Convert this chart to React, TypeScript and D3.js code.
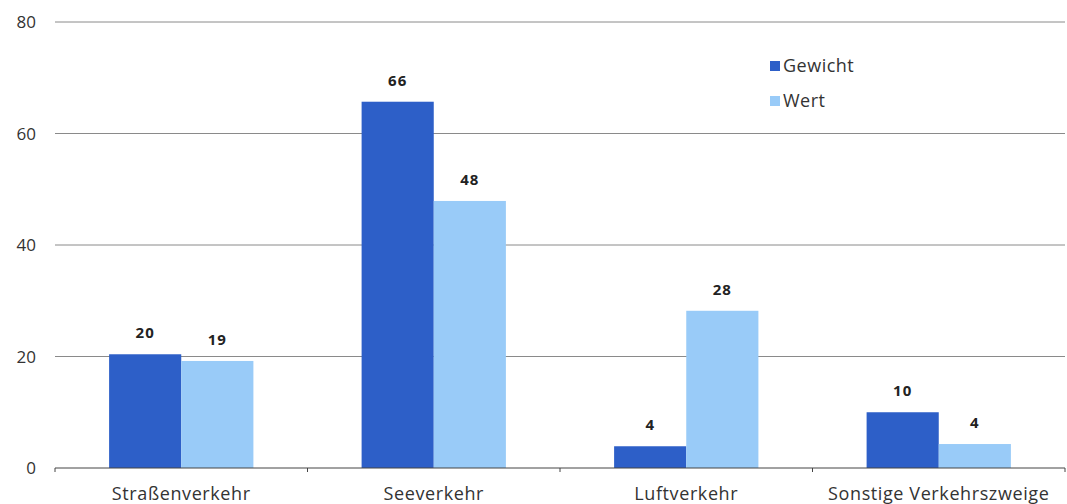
import React from "react";
import * as d3 from "d3";

const categories = ["Straßenverkehr", "Seeverkehr", "Luftverkehr", "Sonstige Verkehrszweige"];
const seriesNames = ["Gewicht", "Wert"];
const gewicht = [20, 66, 4, 10];
const wert = [19, 48, 28, 4];
const gewichtHeights = [20.4, 65.7, 3.9, 10.0];
const wertHeights = [19.2, 47.9, 28.2, 4.3];
const yTicks = [0, 20, 40, 60, 80];
const colors = ["#2d5fc8", "#99cbf8"];

const W = 1067, H = 504;
const margin = { left: 55, right: 2, top: 22, bottom: 36 };

export default function App() {
  const x = d3.scaleBand<string>().domain(categories).range([margin.left, W - margin.right]).paddingInner(0).paddingOuter(0);
  const x1 = d3.scaleBand<string>().domain(seriesNames).range([0, x.bandwidth()]).paddingOuter(0.75).paddingInner(0);
  const y = d3.scaleLinear().domain([0, 80]).range([H - margin.bottom, margin.top]);
  const font = "'Open Sans', 'Noto Sans', sans-serif";
  const heights = [gewichtHeights, wertHeights];
  const labels = [gewicht, wert];
  const ticksX = [...categories.map((c) => x(c)!), W - margin.right];
  return (
    <svg width={W} height={H} style={{ position: "absolute", left: 0, top: 0 }} fontFamily={font}>
      <rect width={W} height={H} fill="#fff" />
      {yTicks.map((t) => (
        <g key={t}>
          {t > 0 && <line x1={margin.left} x2={W - margin.right} y1={y(t)} y2={y(t)} stroke="#8a8a8a" strokeWidth={1} />}
          <text x={36} y={y(t) + 6} textAnchor="end" fontSize={17} fill="#333">{t}</text>
        </g>
      ))}
      {categories.map((c, i) => (
        <g key={c}>
          {seriesNames.map((s, j) => {
            const bx = x(c)! + x1(s)!;
            const v = heights[j][i];
            return (
              <g key={s}>
                <rect x={bx} y={y(v)} width={x1.bandwidth()} height={y(0) - y(v)} fill={colors[j]} />
                <text x={bx + x1.bandwidth() / 2} y={y(v) - 16} textAnchor="middle" fontSize={15} fontWeight="bold" letterSpacing={1} fill="#222">{labels[j][i]}</text>
              </g>
            );
          })}
          <text x={x(c)! + x.bandwidth() / 2} y={H - 4} textAnchor="middle" fontSize={18} letterSpacing={0.6} fill="#333">{c}</text>
        </g>
      ))}
      <line x1={margin.left} x2={W - margin.right} y1={y(0)} y2={y(0)} stroke="#444" strokeWidth={1} />
      {ticksX.map((tx, i) => (
        <line key={i} x1={tx} x2={tx} y1={y(0)} y2={y(0) + 4} stroke="#444" strokeWidth={1} />
      ))}
      {seriesNames.map((s, j) => (
        <g key={s} transform={`translate(770, ${61 + j * 35})`}>
          <rect x={0} y={0} width={10} height={10} fill={colors[j]} />
          <text x={13} y={11} fontSize={18} letterSpacing={0.5} fill="#333">{s}</text>
        </g>
      ))}
    </svg>
  );
}
